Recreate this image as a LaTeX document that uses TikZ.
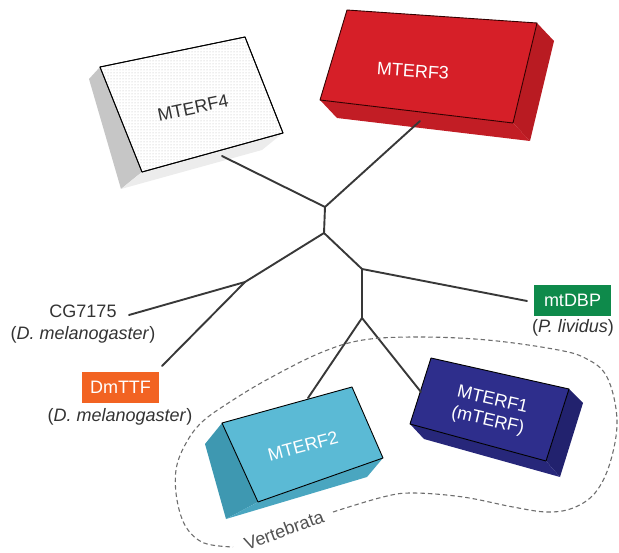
\documentclass[tikz,border=0pt]{standalone}
\usepackage{fontspec}
\setmainfont{Liberation Sans}
\usetikzlibrary{patterns}
\definecolor{treeline}{HTML}{383838}
\definecolor{labelgray}{HTML}{333333}
\definecolor{redfront}{HTML}{D61F28}
\definecolor{redside}{HTML}{B91B22}
\definecolor{redbottom}{HTML}{C21D25}
\definecolor{cyanfront}{HTML}{5BBAD5}
\definecolor{cyanside}{HTML}{3E98B1}
\definecolor{cyanbottom}{HTML}{4AA6C0}
\definecolor{navyfront}{HTML}{2E2E8C}
\definecolor{navyside}{HTML}{22226E}
\definecolor{navybottom}{HTML}{27277A}
\definecolor{dmorange}{HTML}{F26322}
\definecolor{dbpgreen}{HTML}{0E8A4B}
\definecolor{dashgray}{HTML}{6E6E6E}
\tikzset{
  branch/.style={draw=treeline, line width=1.9pt, line cap=round},
  boxedge/.style={draw=black, line width=0.9pt, line join=round},
  lbl/.style={text=labelgray, inner sep=0pt, font=\fontsize{18}{21}\selectfont},
  boxlbl/.style={inner sep=0pt, font=\fontsize{18}{21}\selectfont, align=center},
  tagbox/.style={inner sep=0pt, minimum width=77pt, minimum height=31pt, text=white, font=\fontsize{18}{21}\selectfont},
  encl/.style={draw=dashgray, line width=1.1pt, dash pattern=on 4.5pt off 3pt}
}
\begin{document}
\begin{tikzpicture}[x=1pt,y=-1pt]
\useasboundingbox (0,0) rectangle (619,553);

% ---------- MTERF4 (white dotted box) ----------
\fill[gray!45] (100,67) -- (89,79) -- (121,189) -- (142,172) -- cycle;
\fill[gray!15] (142,172) -- (121,189) -- (262,150) -- (283,133) -- cycle;
\filldraw[fill=white, boxedge] (100,67) -- (245,37) -- (283,133) -- (142,172) -- cycle;
\fill[pattern=dots, pattern color=gray!55] (100,67) -- (245,37) -- (283,133) -- (142,172) -- cycle;
\draw[boxedge] (100,67) -- (245,37) -- (283,133) -- (142,172) -- cycle;
\node[boxlbl, text=labelgray, rotate=12] (m4) at (193,108) {MTERF4};

% ---------- MTERF3 (red box) ----------
\fill[redside] (537,23) -- (554,41) -- (530,141) -- (513,123) -- cycle;
\fill[redbottom] (320,100) -- (513,123) -- (530,141) -- (337,118) -- cycle;
\fill[redfront] (347,10) -- (537,23) -- (513,123) -- (320,100) -- cycle;
\draw[boxedge, draw=black!80!red] (347,10) -- (537,23) -- (513,123) -- (320,100) -- cycle;
\node[boxlbl, text=white, rotate=-4] (m3) at (413,71) {MTERF3};

% ---------- MTERF2 (cyan box) ----------
\fill[cyanside] (222,423) -- (205,444) -- (226,519) -- (258,502) -- cycle;
\fill[cyanbottom] (258,502) -- (226,519) -- (367,477) -- (383,458) -- cycle;
\fill[cyanfront] (222,423) -- (352,387) -- (383,458) -- (258,502) -- cycle;
\draw[boxedge] (222,423) -- (352,387) -- (383,458) -- (258,502) -- cycle;
\node[boxlbl, text=white, rotate=15] (m2) at (303,446) {MTERF2};

% ---------- MTERF1 (navy box) ----------
\fill[navyside] (569,389) -- (583,403) -- (560,477) -- (546,461) -- cycle;
\fill[navybottom] (410,424) -- (546,461) -- (560,477) -- (424,439) -- cycle;
\fill[navyfront] (431,358) -- (569,389) -- (546,461) -- (410,424) -- cycle;
\draw[boxedge] (431,358) -- (569,389) -- (546,461) -- (410,424) -- cycle;
\node[boxlbl, text=white, rotate=-13] (m1) at (490,411) {MTERF1\\(mTERF)};

% ---------- tags ----------
\node[tagbox, fill=dmorange] (dmttf) at (120.5,387.5) {DmTTF};
\node[lbl] (dmttfsp) at (120,417) {(\textit{D. melanogaster})};
\node[tagbox, fill=dbpgreen] (mtdbp) at (572.5,300.5) {mtDBP};
\node[lbl] (mtdbpsp) at (573,328) {(\textit{P. lividus})};
\node[lbl] (cg) at (83,311) {CG7175};
\node[lbl] (cgsp) at (83,335) {(\textit{D. melanogaster})};

% ---------- tree ----------
\coordinate (n1) at (325,207);
\coordinate (n2) at (324,233);
\coordinate (n3) at (362,269);
\coordinate (n4) at (362,318);
\coordinate (n5) at (245,282);
\coordinate (a4) at (222,156);
\coordinate (a3) at (420,121);
\coordinate (a2) at (308,398);
\coordinate (a1) at (421,392);
\coordinate (acg) at (129,315);
\coordinate (adm) at (162,366);
\coordinate (adbp) at (527,301);

\draw[branch] (a4) -- (n1);
\draw[branch] (a3) -- (n1);
\draw[branch] (n1) -- (n2);
\draw[branch] (n2) -- (n3);
\draw[branch] (n2) -- (n5);
\draw[branch] (n5) -- (acg);
\draw[branch] (n5) -- (adm);
\draw[branch] (n3) -- (adbp);
\draw[branch] (n3) -- (n4);
\draw[branch] (n4) -- (a2);
\draw[branch] (n4) -- (a1);

% ---------- Vertebrata enclosure ----------
\draw[encl] plot[smooth, tension=0.6] coordinates {
  (333,512) (383,497) (413,493) (463,497) (513,507) (547,512) (573,508)
  (595,493) (610,463) (617,420) (607,377) (585,358) (553,349) (487,340)
  (420,337) (363,340) (320,353) (270,378) (233,400) (202,422) (185,445)
  (176,470) (177,500) (186,527) (204,543) (233,547)};
\node[lbl, text=labelgray!85, rotate=20] (vert) at (284,530) {Vertebrata};
\end{tikzpicture}
\end{document}
